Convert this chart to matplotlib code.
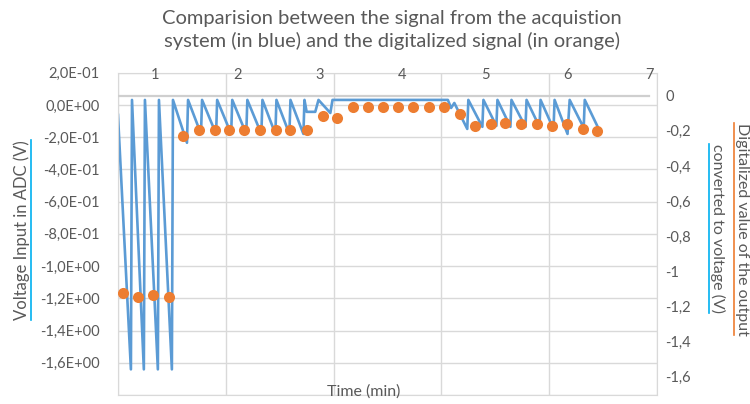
import numpy as np
import matplotlib
matplotlib.use("Agg")
from matplotlib import pyplot as plt
from matplotlib.lines import Line2D
from matplotlib.ticker import FuncFormatter

# acquisition system signal (primary axes: sample index / ADC input voltage)
adc_x = [0, 12, 13, 24, 25, 37, 38, 50, 51, 64, 65,
         77, 78, 91, 92, 105, 106, 119, 120, 133, 134, 146, 147, 159, 160, 172, 173,
         175, 183, 186, 197, 199, 306, 309, 312,
         324, 325, 338, 339, 351, 352, 364, 365, 378, 379, 391, 392,
         404, 405, 417, 419, 432, 433, 445]
adc_v = [-0.062, -1.641, 0.031, -1.641, 0.031, -1.641, 0.031, -1.641, 0.031, -0.235, 0.031,
         -0.180, 0.031, -0.180, 0.031, -0.180, 0.031, -0.180, 0.031, -0.180, 0.031,
         -0.180, 0.031, -0.180, 0.031, -0.180, 0.031,
         -0.043, -0.043, 0.031, -0.050, 0.031, 0.031, -0.019, 0.012,
         -0.149, 0.031, -0.136, 0.031, -0.130, 0.031, -0.136, 0.031, -0.136, 0.031,
         -0.136, 0.031, -0.149, 0.031, -0.180, 0.031, -0.142, 0.031, -0.136]

# digitalized signal (secondary axes: minutes / converted voltage)
dig_t = [0.612, 0.794, 0.976, 1.170, 1.339, 1.533, 1.727, 1.897, 2.079, 2.273,
         2.467, 2.636, 2.842, 3.036, 3.206, 3.400, 3.582, 3.764, 3.945, 4.127,
         4.321, 4.503, 4.697, 4.879, 5.073, 5.242, 5.436, 5.630, 5.812, 5.994,
         6.188, 6.358]
dig_v = [-1.125, -1.148, -1.136, -1.148, -0.227, -0.193, -0.193, -0.193, -0.193, -0.193,
         -0.193, -0.193, -0.193, -0.114, -0.125, -0.063, -0.063, -0.063, -0.063, -0.063,
         -0.063, -0.063, -0.102, -0.170, -0.159, -0.153, -0.159, -0.159, -0.170, -0.159,
         -0.188, -0.199]

BLUE = "#5B9BD5"
ORANGE = "#ED7D31"
GRID = "#D9D9D9"
TXT = "#595959"

plt.rcParams["font.family"] = ["Lato", "DejaVu Sans"]


def sci_comma(v, pos):
    v = round(v, 6)
    if abs(v) < 1e-9:
        v = 0.0
    return f"{v:.1E}".replace(".", ",")


def plain_comma(v, pos):
    v = round(v, 2)
    if abs(v) < 1e-9:
        return "0"
    return f"{v:g}".replace(".", ",")


fig = plt.figure(figsize=(7.5, 4.04), dpi=100)
ax = fig.add_axes([0.1573, 0.0223, 0.7187, 0.7978])

ax.plot(adc_x, adc_v, color=BLUE, lw=1.9, solid_joinstyle="round")
ax.set_xlim(0, 500)
ax.set_ylim(-1.8, 0.2)
ax.set_xticks(range(0, 501, 100))
ax.set_yticks(np.arange(-1.6, 0.21, 0.2))
ax.yaxis.set_major_formatter(FuncFormatter(sci_comma))
ax.grid(True, color=GRID, lw=1)
ax.axhline(-1.8, color=GRID, lw=1)
ax.set_axisbelow(True)
ax.tick_params(axis="x", length=0, labelbottom=False)
ax.tick_params(axis="y", length=0, labelsize=10.5, labelcolor=TXT, pad=13)
for s in ax.spines.values():
    s.set_color(GRID)

ax2 = fig.add_axes(ax.get_position(), frameon=False)
ax2.patch.set_visible(False)
ax2.axhline(0, color="#CFCFCF", lw=1.6, xmax=0.985)
ax2.plot(dig_t, dig_v, "o", color=ORANGE, ms=8, mec="none")
ax2.set_xlim(0.552, 7.085)
ax2.set_ylim(-1.705, 0.131)
ax2.xaxis.tick_top()
ax2.yaxis.tick_right()
ax2.set_xticks(range(1, 8))
ax2.set_yticks(np.arange(0, -1.61, -0.2))
ax2.yaxis.set_major_formatter(FuncFormatter(plain_comma))
ax2.tick_params(axis="x", length=0, labelsize=10.5, labelcolor=TXT, pad=-7)
ax2.tick_params(axis="y", length=0, labelsize=10.5, labelcolor=TXT, pad=6)

fig.text(0.523, 0.926, "Comparision between the signal from the acquistion\n"
         "system (in blue) and the digitalized signal (in orange)",
         ha="center", va="center", fontsize=14.5, color=TXT, linespacing=1.28)

ax.text(0.456, 0.012, "Time (min)", transform=ax.transAxes, ha="center",
        va="center", fontsize=11.5, color=TXT)

ylab = fig.text(22 / 750, 1 - 230 / 404, "Voltage Input in ADC (V)", rotation=90,
                ha="center", va="center", fontsize=12, color=TXT)
rlab1 = fig.text(742 / 750, 1 - 229 / 404, "Digitalized value of the output",
                 rotation=-90, ha="center", va="center", fontsize=11.5, color=TXT)
rlab2 = fig.text(718 / 750, 1 - 228 / 404, "converted to voltage (V)",
                 rotation=-90, ha="center", va="center", fontsize=11.5, color=TXT)

# coloured underlines next to the rotated axis titles
fig.canvas.draw()
r = fig.canvas.get_renderer()
inv = fig.transFigure.inverted()
for t, col, side in [(ylab, "#00B0F0", "right"), (rlab1, ORANGE, "left"),
                     (rlab2, "#00B0F0", "left")]:
    bb = t.get_window_extent(r)
    (x0, y0), (x1, y1) = inv.transform([(bb.x0, bb.y0), (bb.x1, bb.y1)])
    xl = x1 + 1.0 / 750 if side == "right" else x0 - 1.0 / 750
    fig.add_artist(Line2D([xl, xl], [y0, y1], color=col, lw=1.2,
                          transform=fig.transFigure))

fig.savefig("out.png", dpi=100)
